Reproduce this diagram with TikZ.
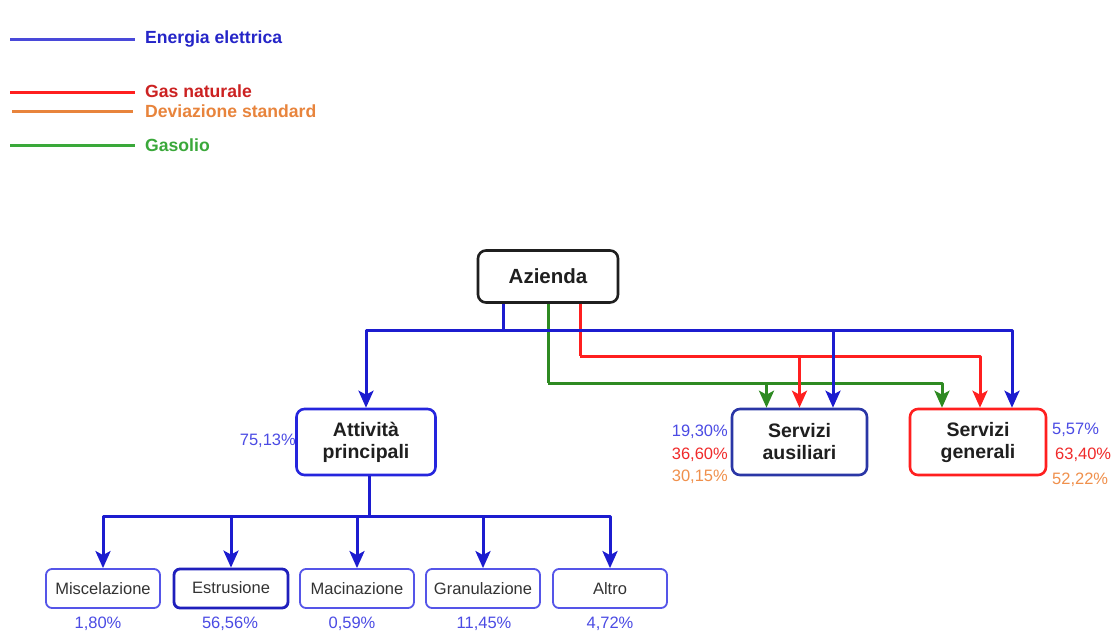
\documentclass[tikz,border=0pt]{standalone}
\usepackage{fontspec}
\setmainfont{Liberation Sans}
\usetikzlibrary{arrows.meta,calc}

\definecolor{eblue}{HTML}{1C1CCF}
\definecolor{gred}{HTML}{FF1F1F}
\definecolor{dgreen}{HTML}{2E8A22}
\definecolor{pblue}{HTML}{4B4BE4}
\definecolor{pred}{HTML}{F02A2A}
\definecolor{porange}{HTML}{F0904C}
\definecolor{legblue}{HTML}{2525C8}
\definecolor{legred}{HTML}{CC2222}
\definecolor{legorange}{HTML}{E8843C}
\definecolor{leggreen}{HTML}{3AA83A}
\definecolor{ausblue}{HTML}{2A36A6}
\definecolor{boxblue}{HTML}{2525DD}
\definecolor{leafblue}{HTML}{5555E8}

\tikzset{
  flow/.style={line width=3pt, line join=round},
  tip/.style={-{Stealth[length=17pt,width=15pt,inset=4pt]}},
  mainbox/.style={draw, rounded corners=8pt, line width=2.6pt, align=center,
    font=\fontsize{19.5}{22}\selectfont\bfseries, text=black!88,
    minimum height=66pt, inner sep=0pt},
  leafbox/.style={draw=leafblue, rounded corners=6pt, line width=1.8pt,
    minimum width=114pt, minimum height=39pt, inner sep=0pt,
    font=\fontsize{16.5}{18}\selectfont, text=black!80},
  pct/.style={font=\fontsize{16.5}{18}\selectfont, inner sep=0pt},
  legtext/.style={font=\fontsize{17.6}{20}\selectfont\bfseries, anchor=west, inner sep=0pt},
  legline/.style={line width=3pt}
}

\begin{document}
\begin{tikzpicture}[x=1pt,y=-1pt]
\useasboundingbox[fill=white] (0,0) rectangle (1120,643);

% ---- legend ----
\node[legtext, text=legblue]   (lgE) at (145,39)  {Energia elettrica};
\node[legtext, text=legred]    (lgG) at (145,91)  {Gas naturale};
\node[legtext, text=legorange] (lgD) at (145,111) {Deviazione standard};
\node[legtext, text=leggreen]  (lgS) at (145,145) {Gasolio};
\coordinate (lsE) at (10,39);  \coordinate (leE) at (135,39);
\coordinate (lsG) at (10,92);  \coordinate (leG) at (135,92);
\coordinate (lsD) at (12,111); \coordinate (leD) at (133,111);
\coordinate (lsS) at (10,145); \coordinate (leS) at (135,145);
\draw[legline, color=eblue!80]   (lsE) -- (leE);
\draw[legline, color=gred]       (lsG) -- (leG);
\draw[legline, color=legorange]  (lsD) -- (leD);
\draw[legline, color=leggreen]   (lsS) -- (leS);

% ---- main nodes ----
\node[mainbox, draw=black!88, minimum width=140pt, minimum height=52pt,
      font=\fontsize{20.5}{24}\selectfont\bfseries] (az) at (548,276.5) {Azienda};
\node[mainbox, draw=boxblue, minimum width=139pt] (att) at (366,442) {Attività\\principali};
\node[mainbox, draw=ausblue, minimum width=135pt] (aus) at (799.5,442) {Servizi\\ausiliari};
\node[mainbox, draw=gred, minimum width=136pt] (gen) at (978,442) {Servizi\\generali};

% ---- leaf nodes ----
\node[leafbox] (mis) at (103,588.5) {Miscelazione};
\node[leafbox, draw=boxblue!85!black, line width=2.8pt] (est) at (231,588.5) {\raisebox{2pt}{Estrusione}};
\node[leafbox] (mac) at (357,588.5) {Macinazione};
\node[leafbox] (gra) at (483,588.5) {Granulazione};
\node[leafbox] (alt) at (610,588.5) {Altro};

% ---- percentages ----
\node[pct, text=pblue, anchor=east] (pAtt) at (296,441) {75,13\%};
\node[pct, text=pblue,   anchor=east] (pAusE) at (728,432) {19,30\%};
\node[pct, text=pred,    anchor=east] (pAusG) at (728,455) {36,60\%};
\node[pct, text=porange, anchor=east] (pAusD) at (728,477) {30,15\%};
\node[pct, text=pblue,   anchor=west] (pGenE) at (1052,430) {5,57\%};
\node[pct, text=pred,    anchor=west] (pGenG) at (1055,455) {63,40\%};
\node[pct, text=porange, anchor=west] (pGenD) at (1052,480) {52,22\%};
\node[pct, text=pblue] (pMis) at (98,624)  {1,80\%};
\node[pct, text=pblue] (pEst) at (230,624) {56,56\%};
\node[pct, text=pblue] (pMac) at (352,624) {0,59\%};
\node[pct, text=pblue] (pGra) at (484,624) {11,45\%};
\node[pct, text=pblue] (pAlt) at (610,624) {4,72\%};

% ---- junctions ----
\coordinate (eJ) at (503,330);
\coordinate (rJ) at (580,356);
\coordinate (gJ) at (548,383);
\coordinate (aJ) at (369,516);

% ---- gasolio (green) ----
\draw[flow, dgreen] (az.south -| gJ) -- (gJ);
\draw[flow, dgreen, tip] (gJ) -| ($(aus.north)+(-33,0)$);
\draw[flow, dgreen, tip] (gJ) -| ($(gen.north)+(-36,0)$);

% ---- gas naturale (red) ----
\draw[flow, gred] (az.south -| rJ) -- (rJ);
\draw[flow, gred, tip] (rJ) -| ($(aus.north)+(0,0)$);
\draw[flow, gred, tip] (rJ) -| ($(gen.north)+(2,0)$);

% ---- energia elettrica (blue) ----
\draw[flow, eblue] (az.south -| eJ) -- (eJ);
\draw[flow, eblue, tip] (eJ) -| (att.north);
\draw[flow, eblue, tip] (eJ) -| ($(aus.north)+(33.5,0)$);
\draw[flow, eblue, tip] (eJ) -| ($(gen.north)+(34,0)$);

% ---- attivita principali branches ----
\draw[flow, eblue] (att.south -| aJ) -- (aJ);
\draw[flow, eblue, tip] (aJ) -| (mis.north);
\draw[flow, eblue, tip] (aJ) -| (est.north);
\draw[flow, eblue, tip] (aJ) -| (mac.north);
\draw[flow, eblue, tip] (aJ) -| (gra.north);
\draw[flow, eblue, tip] (aJ) -| (alt.north);
\end{tikzpicture}
\end{document}
